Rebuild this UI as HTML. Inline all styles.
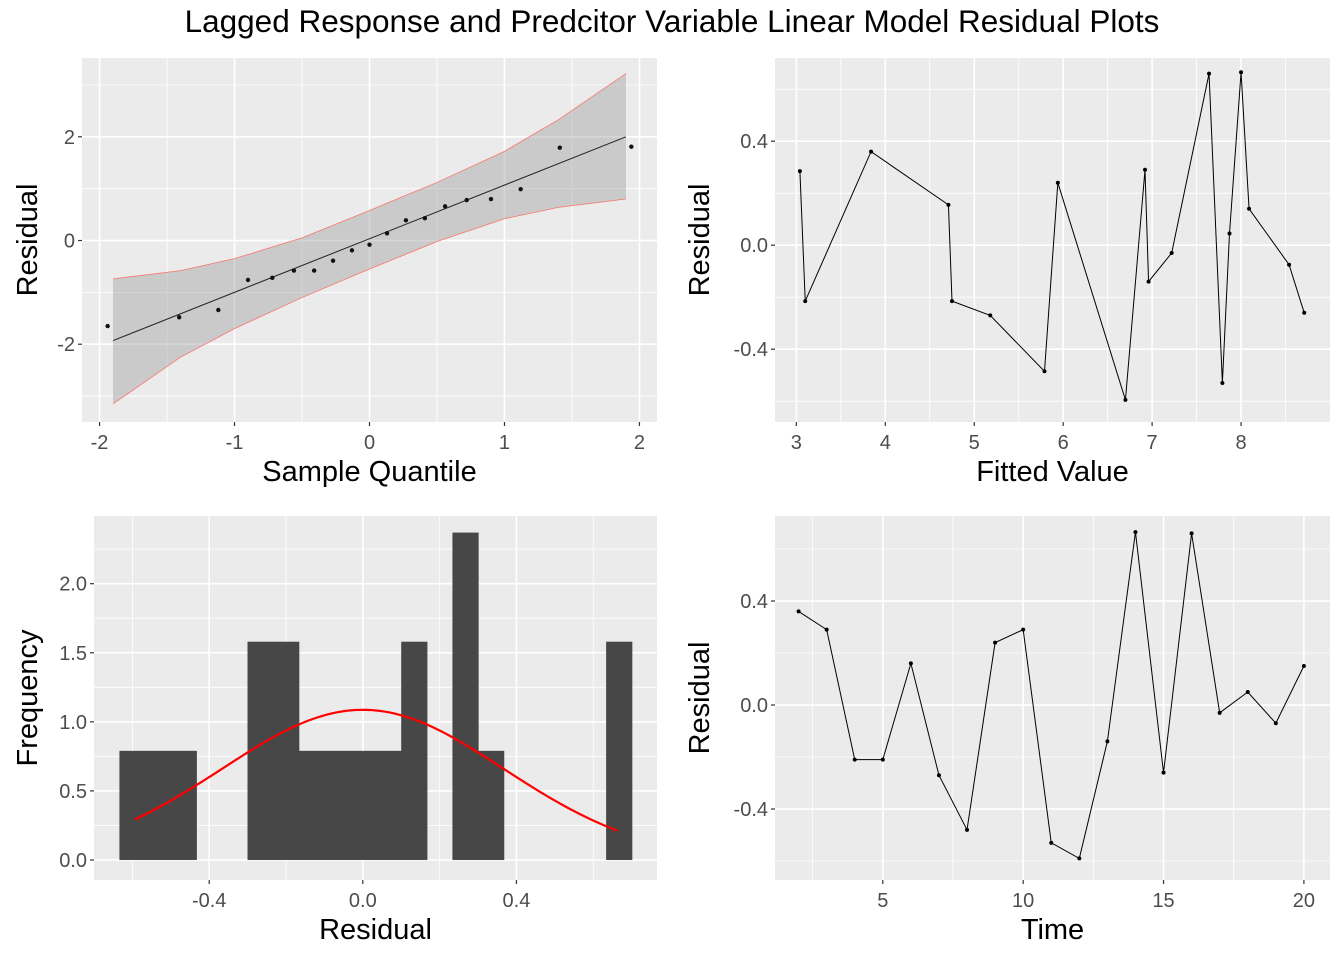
<!DOCTYPE html>
<html><head><meta charset="utf-8">
<style>
body{margin:0;background:#fff;width:1344px;height:960px;overflow:hidden;font-family:"Liberation Sans",Arial,sans-serif;}
svg text{font-family:"Liberation Sans",Arial,sans-serif;}
</style></head>
<body>
<svg id="chart" width="1344" height="960" xmlns="http://www.w3.org/2000/svg">
<text x="672" y="32" font-size="31.5" text-anchor="middle" fill="#000">Lagged Response and Predcitor Variable Linear Model Residual Plots</text>
</svg>
<script>
// ---- QQ panel data ----
const qqTheoretical = [-1.94,-1.41,-1.12,-0.90,-0.72,-0.56,-0.41,-0.27,-0.13,0,0.13,0.27,0.41,0.56,0.72,0.90,1.12,1.41,1.94];
const qqSample = [-1.65,-1.48,-1.34,-0.76,-0.72,-0.58,-0.58,-0.39,-0.19,-0.08,0.14,0.39,0.43,0.66,0.78,0.80,0.99,1.79,1.81];
const qqLineX = [-1.9,1.9];
const qqLineY = [-1.93,2.0];
const bandX = [-1.9,-1.4,-1,-0.5,0,0.5,1,1.4,1.9];
const bandUpper = [-0.74,-0.58,-0.35,0.05,0.58,1.12,1.72,2.33,3.22];
const bandLower = [-3.15,-2.25,-1.7,-1.1,-0.55,-0.02,0.42,0.64,0.8];
const qqXTicks = [-2,-1,0,1,2];
const qqYTicks = [-2,0,2];
// ---- fitted vs residual ----
const fittedValues = [3.04,3.10,3.84,4.71,4.75,5.18,5.79,5.94,6.70,6.92,6.96,7.22,7.64,7.79,7.87,8.00,8.09,8.54,8.71];
const fittedResiduals = [0.285,-0.215,0.36,0.155,-0.215,-0.27,-0.485,0.24,-0.595,0.29,-0.14,-0.03,0.66,-0.53,0.045,0.665,0.14,-0.075,-0.26];
const fvXTicks = [3,4,5,6,7,8];
const resYTicks = [-0.4,0.0,0.4];
// ---- histogram ----
const binStart = -0.633;
const binWidth = 0.0667;
const binDensity = [0.79,0.79,0.79,0,0,1.58,1.58,0.79,0.79,0.79,0.79,1.58,0,2.37,0.79,0,0,0,0,1.58];
const normParams = [0, 0.367];
const curveRange = [-0.594, 0.664];
const histXTicks = [-0.4,0.0,0.4];
const histYTicks = [0.0,0.5,1.0,1.5,2.0];
// ---- time series ----
const timeIndex = [2,3,4,5,6,7,8,9,10,11,12,13,14,15,16,17,18,19,20];
const timeResiduals = [0.36,0.29,-0.21,-0.21,0.16,-0.27,-0.48,0.24,0.29,-0.53,-0.59,-0.14,0.665,-0.26,0.66,-0.03,0.05,-0.07,0.15];
const timeXTicks = [5,10,15,20];

const NS="http://www.w3.org/2000/svg";
const svg=document.getElementById('chart');
function mk(tag,attrs,parent){const e=document.createElementNS(NS,tag);for(const k in attrs)e.setAttribute(k,attrs[k]);(parent||svg).appendChild(e);return e;}
function lin(d0,d1,r0,r1){return v=>r0+(v-d0)*(r1-r0)/(d1-d0);}

function panel(name,px0,px1,py0,py1,xd,yd,xt,yt,fmtX,fmtY,xTitle,yTitle,yTitleX){
  const g=mk('g',{});
  
  
  const sx=lin(xd[0],xd[1],px0,px1), sy=lin(yd[0],yd[1],py1,py0);
  const bg=mk('rect',{x:px0,y:py0,width:px1-px0,height:py1-py0,fill:'#ebebeb'},g);
  
  
  const dx=xt[1]-xt[0], dy=yt[1]-yt[0];
  for(let v=xt[0]-dx/2; v<=xd[1]; v+=dx){ if(v>=xd[0]) mk('line',{x1:sx(v),x2:sx(v),y1:py0,y2:py1,stroke:'#fff','stroke-width':0.8},g);}
  for(let v=yt[0]-dy/2; v<=yd[1]; v+=dy){ if(v>=yd[0]) mk('line',{y1:sy(v),y2:sy(v),x1:px0,x2:px1,stroke:'#fff','stroke-width':0.8},g);}
  xt.forEach(v=>{
    mk('line',{x1:sx(v),x2:sx(v),y1:py0,y2:py1,stroke:'#fff','stroke-width':1.6},g);
    mk('line',{x1:sx(v),x2:sx(v),y1:py1,y2:py1+4,stroke:'#333','stroke-width':1.2},g);
    const t=mk('text',{x:sx(v),y:py1+27,'font-size':20,fill:'#4d4d4d','text-anchor':'middle'},g);t.textContent=fmtX(v);
    
    
  });
  yt.forEach(v=>{
    mk('line',{y1:sy(v),y2:sy(v),x1:px0,x2:px1,stroke:'#fff','stroke-width':1.6},g);
    mk('line',{y1:sy(v),y2:sy(v),x1:px0-4,x2:px0,stroke:'#333','stroke-width':1.2},g);
    const t=mk('text',{x:px0-7,y:sy(v)+7,'font-size':20,fill:'#4d4d4d','text-anchor':'end'},g);t.textContent=fmtY(v);
    
    
  });
  const xtl=mk('text',{x:(px0+px1)/2,y:py1+59,'font-size':29,'text-anchor':'middle',fill:'#000'},g);xtl.textContent=xTitle;
  
  
  const ytl=mk('text',{x:yTitleX,y:(py0+py1)/2,'font-size':29,'text-anchor':'middle',fill:'#000',transform:`rotate(-90 ${yTitleX} ${(py0+py1)/2})`},g);ytl.textContent=yTitle;
  
  
  return {g,sx,sy};
}
const f0=v=>String(v), f1=v=>v.toFixed(1);

// QQ
(function(){
  const p=panel('qq-plot-panel',82,657,58,422,[-2.13,2.13],[-3.5,3.52],qqXTicks,qqYTicks,f0,f0,'Sample Quantile','Residual',37);
  let d='';
  bandX.forEach((x,i)=>{d+=(i?'L':'M')+p.sx(x)+','+p.sy(bandUpper[i]);});
  for(let i=bandX.length-1;i>=0;i--) d+='L'+p.sx(bandX[i])+','+p.sy(bandLower[i]);
  const band=mk('path',{d:d+'Z',fill:'#999','fill-opacity':0.4},p.g);
  
  
  [bandUpper,bandLower].forEach(arr=>{
    const pl=mk('polyline',{points:bandX.map((x,i)=>p.sx(x)+','+p.sy(arr[i])).join(' '),fill:'none',stroke:'#f8766d','stroke-width':0.8},p.g);
    
    
  });
  const ln=mk('line',{x1:p.sx(qqLineX[0]),y1:p.sy(qqLineY[0]),x2:p.sx(qqLineX[1]),y2:p.sy(qqLineY[1]),stroke:'#222','stroke-width':1},p.g);
  
  
  qqTheoretical.forEach((x,i)=>{
    const c=mk('circle',{cx:p.sx(x),cy:p.sy(qqSample[i]),r:2.2,fill:'#111'},p.g);
    
    
  });
})();

// Fitted
(function(){
  const p=panel('fitted-vs-residual-panel',775,1330,58,422,[2.76,9.0],[-0.68,0.72],fvXTicks,resYTicks,f0,f1,'Fitted Value','Residual',709);
  const pl=mk('polyline',{points:fittedValues.map((x,i)=>p.sx(x)+','+p.sy(fittedResiduals[i])).join(' '),fill:'none',stroke:'#000','stroke-width':1},p.g);
  
  
  fittedValues.forEach((x,i)=>{
    const c=mk('circle',{cx:p.sx(x),cy:p.sy(fittedResiduals[i]),r:2,fill:'#000'},p.g);
    
    
  });
})();

// Histogram
(function(){
  const p=panel('residual-histogram-panel',94,657,516,880,[-0.70,0.766],[-0.145,2.49],histXTicks,histYTicks,f1,f1,'Residual','Frequency',37);
  binDensity.forEach((h,i)=>{
    if(h<=0) return;
    const x0=binStart+i*binWidth;
    const r=mk('rect',{x:p.sx(x0)-0.3,y:p.sy(h),width:p.sx(x0+binWidth)-p.sx(x0)+0.6,height:p.sy(0)-p.sy(h),fill:'#474747'},p.g);
    
    
  });
  const [mu,sd]=normParams;let pts=[];
  for(let k=0;k<=100;k++){const x=curveRange[0]+(curveRange[1]-curveRange[0])*k/100;const y=Math.exp(-0.5*((x-mu)/sd)**2)/(sd*Math.sqrt(2*Math.PI));pts.push(p.sx(x)+','+p.sy(y));}
  const c=mk('polyline',{points:pts.join(' '),fill:'none',stroke:'#ff0000','stroke-width':2.2},p.g);
  
  
})();

// Time
(function(){
  const p=panel('time-vs-residual-panel',775,1330,516,880,[1.16,20.93],[-0.673,0.727],timeXTicks,resYTicks,f0,f1,'Time','Residual',709);
  const pl=mk('polyline',{points:timeIndex.map((x,i)=>p.sx(x)+','+p.sy(timeResiduals[i])).join(' '),fill:'none',stroke:'#000','stroke-width':1},p.g);
  
  
  timeIndex.forEach((x,i)=>{
    const c=mk('circle',{cx:p.sx(x),cy:p.sy(timeResiduals[i]),r:2,fill:'#000'},p.g);
    
    
  });
})();
</script>
</body></html>
